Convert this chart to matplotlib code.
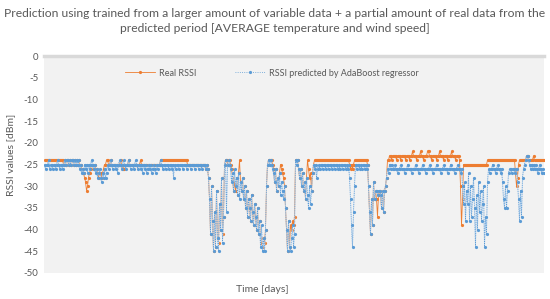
import matplotlib
matplotlib.use("Agg")
import matplotlib.pyplot as plt

plt.rcParams['font.family'] = ['Lato', 'DejaVu Sans']
plt.rcParams['axes.unicode_minus'] = False

title = ("Prediction using trained from a larger amount of variable data + a partial amount of real data from the\n"
         "predicted period [AVERAGE temperature and wind speed]")
series_names = ["Real RSSI", "RSSI predicted by AdaBoost regressor"]
y_label = "RSSI values [dBm]"
x_label = "Time [days]"
y_ticks = [0, -5, -10, -15, -20, -25, -30, -35, -40, -45, -50]
y_tick_labels = ["0", "-5", "-10", "-15", "-20", "-25", "-30", "-35", "-40", "-45", "-50"]

real_rssi = [
    -24, -24, -24, -24, -24, -24, -24, -24, -24, -24,
    -24, -24, -24, -24, -24, -24, -24, -24, -24, -25,
    -24, -25, -24, -24, -25, -24, -25, -24, -24, -25,
    -24, -25, -24, -25, -24, -25, -25, -26, -26, -27,
    -28, -29, -31, -30, -28, -27, -26, -25, -25, -26,
    -25, -26, -26, -27, -28, -27, -27, -28, -27, -26,
    -25, -25, -24, -24, -25, -25, -24, -25, -25, -25,
    -25, -25, -25, -25, -25, -25, -24, -25, -26, -26,
    -25, -25, -25, -25, -24, -25, -25, -25, -25, -25,
    -25, -25, -25, -25, -25, -25, -24, -25, -25, -25,
    -25, -25, -25, -25, -25, -25, -25, -25, -25, -25,
    -25, -25, -25, -25, -25, -25, -24, -24, -24, -24,
    -24, -24, -24, -24, -24, -24, -24, -24, -24, -24,
    -24, -24, -24, -24, -24, -24, -24, -24, -24, -24,
    -24, -24, -24, -25, -25, -25, -25, -25, -25, -25,
    -25, -25, -25, -25, -25, -25, -25, -25, -25, -25,
    -25, -26, -25, -26, -28, -33, -41, -30, -38, -45,
    -36, -44, -31, -42, -43, -34, -40, -28, -41, -37,
    -25, -24, -24, -25, -24, -24, -25, -26, -28, -31,
    -29, -31, -28, -32, -27, -24, -29, -31, -28, -33,
    -30, -35, -31, -37, -33, -35, -38, -32, -36, -39,
    -34, -37, -40, -35, -41, -38, -42, -43, -44, -42,
    -43, -40, -30, -25, -24, -24, -24, -24, -25, -26,
    -29, -26, -31, -28, -30, -27, -25, -26, -27, -28,
    -30, -35, -40, -45, -38, -44, -39, -40, -38, -39,
    -37, -24, -24, -24, -26, -28, -26, -30, -27, -31,
    -29, -33, -28, -24, -26, -28, -27, -31, -27, -25,
    -24, -24, -24, -24, -24, -24, -24, -24, -24, -24,
    -24, -24, -24, -24, -24, -24, -24, -24, -24, -24,
    -24, -24, -24, -24, -24, -24, -24, -24, -24, -24,
    -24, -24, -24, -24, -24, -25, -26, -25, -26, -25,
    -24, -24, -24, -24, -24, -24, -24, -24, -24, -24,
    -24, -24, -24, -25, -30, -36, -41, -33, -39, -29,
    -33, -31, -33, -37, -32, -31, -32, -35, -31, -36,
    -31, -30, -28, -24, -24, -23, -23, -24, -23, -23,
    -23, -23, -24, -23, -23, -23, -24, -23, -23, -23,
    -23, -24, -23, -23, -23, -24, -23, -23, -22, -23,
    -23, -23, -24, -23, -23, -23, -22, -23, -23, -24,
    -23, -23, -23, -22, -22, -23, -23, -24, -23, -23,
    -23, -23, -24, -23, -23, -22, -23, -23, -23, -24,
    -23, -23, -23, -24, -23, -23, -23, -22, -23, -23,
    -23, -24, -23, -23, -23, -24, -30, -39, -33, -25,
    -25, -25, -25, -25, -25, -25, -25, -25, -25, -25,
    -25, -25, -25, -25, -25, -25, -25, -25, -25, -25,
    -25, -25, -25, -24, -24, -24, -24, -24, -24, -24,
    -24, -24, -24, -24, -24, -24, -24, -24, -24, -24,
    -24, -24, -24, -24, -24, -24, -24, -24, -24, -24,
    -24, -27, -30, -28, -25, -24, -24, -24, -24, -24,
    -24, -24, -23, -23, -24, -24, -24, -24, -24, -23,
    -24, -24, -24, -24, -24, -24, -24, -24, -24, -24,
]

predicted_rssi = [
    -25, -26, -25, -25, -24, -26, -25, -25, -26, -25,
    -25, -26, -25, -24, -25, -26, -25, -25, -26, -25,
    -24, -25, -24, -24, -25, -24, -25, -24, -24, -25,
    -24, -25, -24, -25, -24, -26, -25, -27, -26, -27,
    -25, -26, -25, -27, -25, -26, -25, -24, -25, -26,
    -25, -27, -26, -28, -27, -26, -28, -29, -27, -28,
    -26, -28, -27, -25, -26, -25, -24, -25, -26, -25,
    -25, -26, -25, -27, -25, -24, -25, -26, -25, -24,
    -25, -26, -25, -25, -24, -25, -26, -25, -25, -26,
    -25, -24, -25, -26, -25, -25, -26, -25, -27, -25,
    -26, -25, -27, -26, -25, -26, -25, -27, -26, -25,
    -26, -27, -25, -26, -25, -25, -24, -25, -26, -25,
    -25, -26, -25, -25, -26, -25, -25, -26, -25, -28,
    -25, -26, -25, -25, -26, -25, -25, -25, -26, -25,
    -25, -25, -26, -25, -25, -25, -26, -25, -25, -25,
    -26, -25, -25, -25, -26, -25, -25, -26, -25, -25,
    -25, -26, -25, -26, -28, -33, -41, -30, -38, -45,
    -36, -44, -31, -42, -45, -34, -40, -28, -43, -37,
    -25, -24, -36, -25, -24, -25, -26, -29, -27, -31,
    -26, -30, -28, -32, -27, -33, -29, -31, -28, -33,
    -30, -35, -31, -37, -33, -35, -38, -32, -36, -39,
    -34, -37, -40, -35, -41, -38, -44, -39, -45, -42,
    -45, -40, -30, -25, -24, -25, -24, -25, -26, -27,
    -29, -26, -31, -28, -30, -27, -32, -29, -31, -33,
    -30, -35, -40, -45, -38, -44, -45, -42, -39, -44,
    -41, -24, -25, -24, -26, -28, -26, -30, -27, -31,
    -29, -33, -28, -32, -35, -30, -34, -31, -27, -25,
    -26, -25, -28, -26, -25, -26, -25, -25, -26, -25,
    -25, -26, -25, -25, -26, -25, -25, -26, -25, -25,
    -26, -25, -25, -26, -25, -26, -25, -25, -26, -25,
    -25, -26, -25, -26, -25, -28, -33, -39, -44, -36,
    -30, -25, -26, -25, -25, -26, -25, -26, -25, -25,
    -26, -25, -26, -25, -30, -36, -41, -33, -39, -29,
    -33, -31, -31, -32, -31, -31, -32, -35, -31, -36,
    -31, -30, -28, -26, -27, -25, -26, -25, -26, -26,
    -25, -26, -26, -27, -26, -26, -25, -26, -26, -26,
    -27, -26, -26, -25, -26, -26, -26, -27, -26, -26,
    -26, -25, -26, -26, -27, -26, -26, -26, -25, -26,
    -26, -27, -26, -26, -26, -25, -26, -26, -27, -26,
    -26, -26, -25, -26, -26, -26, -27, -26, -26, -25,
    -26, -26, -26, -27, -26, -26, -25, -26, -26, -26,
    -27, -26, -26, -25, -26, -26, -27, -26, -30, -34,
    -29, -38, -31, -34, -27, -38, -30, -37, -33, -28,
    -35, -44, -32, -40, -29, -36, -31, -38, -34, -30,
    -44, -37, -41, -29, -26, -27, -26, -26, -25, -26,
    -26, -27, -26, -25, -26, -26, -27, -26, -29, -33,
    -35, -30, -35, -31, -27, -26, -26, -27, -26, -26,
    -27, -26, -26, -29, -33, -38, -31, -37, -28, -26,
    -25, -24, -23, -23, -24, -25, -26, -25, -26, -25,
    -26, -25, -26, -27, -26, -25, -26, -27, -26, -27,
]

ORANGE = "#ED7D31"
BLUE = "#5B9BD5"
BLUE_LIGHT = "#c3d9ef"
TXT = "#595959"

fig = plt.figure(figsize=(5.5, 2.99), dpi=100)
ax = fig.add_axes([44/550, 1-273/299, 500/550, (273-56)/299])
ax.set_facecolor("#f2f2f2")

t = list(range(len(real_rssi)))
ax.plot(t, real_rssi, color=ORANGE, lw=0.6, marker='o', markersize=2.3,
        markeredgewidth=0, label=series_names[0], zorder=2)
ax.plot(t, predicted_rssi, color=BLUE_LIGHT, lw=0.6, zorder=2.1)
ax.plot(t, predicted_rssi, color=BLUE, lw=0.6, ls=':', marker='o', markersize=2.3,
        markeredgewidth=0, label=series_names[1], zorder=2.2)

ax.set_xlim(-0.5, len(real_rssi) - 0.5)
ax.set_ylim(-50, 0)
ax.set_xticks([])
ax.set_yticks(y_ticks)
ax.set_yticklabels(y_tick_labels)
ax.tick_params(axis='y', length=0, pad=4, labelsize=7, labelcolor=TXT)
for s in ['left', 'right', 'bottom']:
    ax.spines[s].set_visible(False)
ax.spines['top'].set_color("#d9d9d9")
ax.spines['top'].set_linewidth(2.5)

fig.text(275/550, 1-21/299, title, ha='center', va='center', fontsize=8.7,
         color=TXT, linespacing=1.4)
fig.text(11/550, 1-155/299, y_label, rotation=90, ha='center', va='center',
         fontsize=7.5, color=TXT)
fig.text(262/550, 1-290/299, x_label, ha='center', va='center', fontsize=7.5, color=TXT)

fig.legend(loc='center', bbox_to_anchor=(272/550, 1-73/299), ncol=2, frameon=False,
           fontsize=6.5, labelcolor=TXT, handlelength=3.3, handletextpad=0.45,
           columnspacing=4.3, markerscale=1.0)

fig.savefig("out.png", dpi=100)
